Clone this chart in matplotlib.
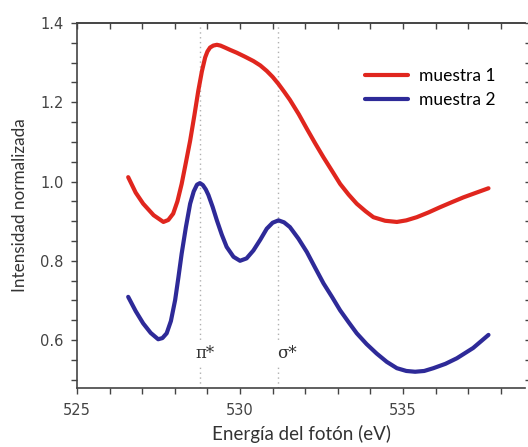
import matplotlib
matplotlib.use("Agg")
import matplotlib.pyplot as plt
from matplotlib.ticker import MultipleLocator, FormatStrFormatter

# Photon energy (eV) and normalized intensity for each sample
energia_m1 = [526.57, 526.80, 527.03, 527.35, 527.65, 527.80, 527.95, 528.08, 528.21,
              528.34, 528.47, 528.60, 528.72, 528.83, 528.93, 529.00, 529.08, 529.18,
              529.29, 529.40, 529.54, 529.70, 529.90, 530.15, 530.41, 530.62, 530.82,
              531.00, 531.18, 531.35, 531.53, 531.80, 532.05, 532.30, 532.56,
              532.82, 533.07, 533.33, 533.58, 533.85, 534.09, 534.45, 534.81, 535.10,
              535.42, 535.78, 536.13, 536.50, 536.85, 537.25, 537.62]
intens_m1 = [1.011, 0.972, 0.944, 0.915, 0.898, 0.903, 0.919, 0.950, 0.994,
             1.048, 1.103, 1.167, 1.229, 1.278, 1.313, 1.328, 1.338, 1.343,
             1.345, 1.343, 1.338, 1.332, 1.325, 1.315, 1.304, 1.293, 1.279,
             1.264, 1.246, 1.227, 1.206, 1.170, 1.133, 1.097, 1.061,
             1.027, 0.994, 0.967, 0.944, 0.925, 0.910, 0.901, 0.898, 0.902,
             0.910, 0.922, 0.935, 0.948, 0.960, 0.972, 0.983]

energia_m2 = [526.57, 526.80, 527.03, 527.26, 527.49, 527.62, 527.75, 527.88, 528.01,
              528.11, 528.21, 528.34, 528.47, 528.58, 528.68, 528.77, 528.86, 528.95,
              529.03, 529.16, 529.29, 529.44, 529.59, 529.80, 530.00, 530.20, 530.41,
              530.62, 530.82, 531.00, 531.18, 531.35, 531.53, 531.79, 532.05, 532.30,
              532.56, 532.82, 533.07, 533.33, 533.58, 533.88, 534.19, 534.50, 534.81,
              535.10, 535.37, 535.65, 535.93, 536.30, 536.65, 537.15, 537.62]
intens_m2 = [0.709, 0.673, 0.642, 0.618, 0.602, 0.605, 0.617, 0.648, 0.701,
             0.758, 0.818, 0.885, 0.944, 0.975, 0.992, 0.996, 0.991, 0.980,
             0.966, 0.936, 0.902, 0.866, 0.835, 0.810, 0.800, 0.806, 0.826,
             0.853, 0.881, 0.896, 0.902, 0.897, 0.885, 0.856, 0.822, 0.783,
             0.743, 0.709, 0.675, 0.645, 0.617, 0.590, 0.566, 0.545, 0.529,
             0.522, 0.520, 0.522, 0.529, 0.540, 0.554, 0.580, 0.613]

# Resonance positions and their labels
pos_pi = 528.77
pos_sigma = 531.17
etiquetas_res = ["π*", "σ*"]
pos_etiquetas = [528.93, 531.44]

W, H = 528, 447
fig = plt.figure(figsize=(W / 100, H / 100), dpi=100)
ax = fig.add_axes([77 / W, (H - 388) / H, (525 - 77) / W, (388 - 23) / H])

gris = "#444444"
fuente = "Lato"

for xv in (pos_pi, pos_sigma):
    ax.axvline(xv, color="#b0b0b0", lw=1.0, ls=(0, (1, 2.5)), zorder=1)

ax.plot(energia_m1, intens_m1, color="#e0261e", lw=3.0, solid_joinstyle="round",
        solid_capstyle="round", label="muestra 1", zorder=3)
ax.plot(energia_m2, intens_m2, color="#2e2a98", lw=3.0, solid_joinstyle="round",
        solid_capstyle="round", label="muestra 2", zorder=3)

for txt, xv in zip(etiquetas_res, pos_etiquetas):
    ax.text(xv, 0.565, txt, ha="center", va="center", fontsize=12,
            family="DejaVu Serif", color="#333333", zorder=4,
            bbox=dict(facecolor="white", edgecolor="none", pad=3))

ax.set_xlim(525, 538.74)
ax.set_ylim(0.479, 1.4)

ax.xaxis.set_major_locator(MultipleLocator(5))
ax.xaxis.set_minor_locator(MultipleLocator(1))
ax.yaxis.set_major_locator(MultipleLocator(0.2))
ax.yaxis.set_minor_locator(MultipleLocator(0.05))
ax.yaxis.set_major_formatter(FormatStrFormatter("%.1f"))

ax.tick_params(axis="x", which="both", direction="out", length=4.5, width=1,
               colors=gris, labelsize=10.5, pad=6)
ax.tick_params(axis="y", which="both", direction="out", length=4.5, width=1,
               colors=gris, labelsize=10.5, pad=5, right=True)

# Top axis: inward ticks, no labels
top = ax.secondary_xaxis("top")
top.xaxis.set_major_locator(MultipleLocator(1))
top.tick_params(axis="x", which="both", direction="in", length=4.5, width=1,
                colors=gris, labeltop=False)
top.spines["top"].set_color(gris)
top.spines["top"].set_linewidth(1.2)

for s in ("left", "bottom", "top"):
    ax.spines[s].set_color(gris)
    ax.spines[s].set_linewidth(1.2)
ax.spines["right"].set_visible(False)

ax.set_xlabel("Energía del fotón (eV)", fontsize=13.5, family=fuente,
              color="#333333", labelpad=5)
ax.set_ylabel("Intensidad normalizada", fontsize=12.3, family=fuente,
              color="#333333", labelpad=9)

ax.legend(loc="upper left", bbox_to_anchor=(0.643, 0.876), frameon=False,
          borderpad=0, borderaxespad=0,
          handlelength=2.5, handletextpad=0.6, labelspacing=0.45,
          prop={"family": fuente, "size": 12.5})

fig.savefig("out.png", dpi=100, facecolor="white")
